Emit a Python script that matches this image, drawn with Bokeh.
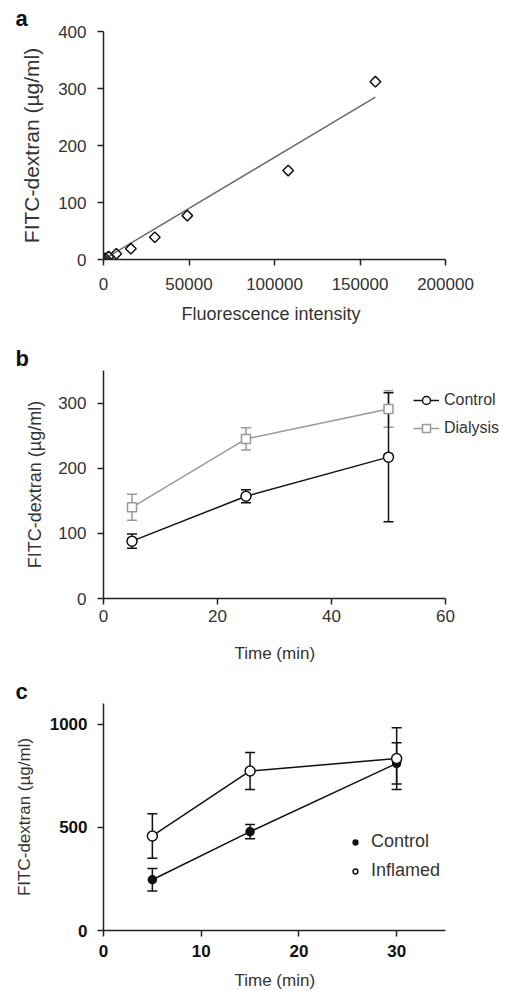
import numpy as np
from bokeh.plotting import figure
from bokeh.models import (ColumnDataSource, Whisker, TeeHead, FixedTicker, BasicTickFormatter,
                          Legend, LegendItem, Range1d, Title)
from bokeh.layouts import column
from bokeh.embed import file_html
from bokeh.resources import INLINE

# ---------------- data ----------------
# panel a: calibration
cal_x = [0, 1000, 3000, 7500, 16000, 30000, 49000, 108000, 159000]
cal_y = [0, 2, 5, 10, 19, 39, 77, 156, 312]
fit_x = [0, 159000]
fit_y = [0, 285]
a_xticks = [0, 50000, 100000, 150000, 200000]
a_yticks = [0, 100, 200, 300, 400]

# panel b
time_b = [5, 25, 50]
ctrl_b = [88, 157, 217]
ctrl_b_err = [11, 10, 99]
dial_b = [140, 245, 291]
dial_b_err = [20, 17, 28]
b_xticks = [0, 20, 40, 60]
b_yticks = [0, 100, 200, 300]

# panel c
time_c = [5, 15, 30]
ctrl_c = [246, 479, 810]
ctrl_c_err = [54, 35, 100]
infl_c = [458, 773, 833]
infl_c_err = [108, 90, 150]
c_xticks = [0, 10, 20, 30]
c_yticks = [0, 500, 1000]

FONT = "Liberation Sans"
AX = "#222222"
TXT = "#333333"
W = 503
FRAME_W = 398      # drawing area width (axis line is limited to the axis span)
AXIS_W = 342       # pixel length of the visible x-axis


def base_fig(height, xmax, yr, mbt, mbb):
    xr = (0, xmax * FRAME_W / AXIS_W)
    p = figure(width=W, height=height, x_range=Range1d(*xr), y_range=Range1d(*yr),
               output_backend="svg", toolbar_location=None,
               min_border_left=103, min_border_right=W - 103 - FRAME_W,
               min_border_top=mbt, min_border_bottom=mbb)
    p.outline_line_color = None
    p.grid.visible = False
    for ax in (p.xaxis[0], p.yaxis[0]):
        ax.axis_line_color = AX
        ax.axis_line_width = 1.5
        ax.major_tick_line_color = AX
        ax.major_tick_line_width = 1.5
        ax.major_tick_out = 6
        ax.major_tick_in = 0
        ax.minor_tick_line_color = None
        ax.major_label_text_font = FONT
        ax.axis_label_text_font = FONT
        ax.axis_label_text_font_style = "normal"
        ax.major_label_text_color = TXT
        ax.axis_label_text_color = TXT
    p.xaxis.bounds = (0, xmax)
    return p


def panel_label(p, txt, standoff):
    p.title.text = txt
    p.title.text_font = FONT
    p.title.text_font_style = "bold"
    p.title.text_font_size = "22px"
    p.title.text_color = "#111111"
    p.title.align = "left"
    p.title.offset = -88
    p.title.standoff = standoff


def x_label(p, txt, size, offset, pad_top):
    # x-axis caption centred under the visible axis span (not the wider frame)
    t = Title(text=txt, align="left", offset=offset, standoff=0,
              padding=(0, 0, pad_top, 0),
              vertical_align="bottom", text_font=FONT, text_font_style="normal",
              text_font_size=size, text_color=TXT)
    p.add_layout(t, "below")


def whisk(p, xs, ys, errs, color, head):
    src = ColumnDataSource(dict(x=xs, upper=[v + e for v, e in zip(ys, errs)],
                                lower=[v - e for v, e in zip(ys, errs)]))
    w = Whisker(source=src, base="x", upper="upper", lower="lower",
                line_color=color, line_width=1.5,
                upper_head=TeeHead(size=head, line_color=color, line_width=1.5),
                lower_head=TeeHead(size=head, line_color=color, line_width=1.5))
    p.add_layout(w)


# ---------------- panel a ----------------
pa = base_fig(340, 200000, (0, 400), 31, 81)
pa.xaxis.ticker = FixedTicker(ticks=a_xticks)
pa.yaxis.ticker = FixedTicker(ticks=a_yticks)
pa.xaxis.formatter = BasicTickFormatter(use_scientific=False)
pa.yaxis.axis_label = "FITC-dextran (µg/ml)"
pa.xaxis.major_label_text_font_size = "17px"
pa.yaxis.major_label_text_font_size = "17px"
pa.yaxis.axis_label_text_font_size = "21px"
pa.xaxis.major_label_standoff = 12
pa.yaxis.major_label_standoff = 11
pa.yaxis.axis_label_standoff = 12
x_label(pa, "Fluorescence intensity", "18px", 78, 9)
pa.line(fit_x, fit_y, line_color="#666666", line_width=1.4)
pa.scatter(cal_x, cal_y, marker="square", angle=np.pi / 4, size=7.5,
           fill_color=None, line_color="#111111", line_width=1.5)
panel_label(pa, "a", 2)

# ---------------- panel b ----------------
pb = base_fig(332, 60, (0, 350), 30, 74)
pb.xaxis.ticker = FixedTicker(ticks=b_xticks)
pb.yaxis.ticker = FixedTicker(ticks=b_yticks)
pb.yaxis.axis_label = "FITC-dextran (µg/ml)"
pb.xaxis.major_label_text_font_size = "17px"
pb.yaxis.major_label_text_font_size = "17px"
pb.yaxis.axis_label_text_font_size = "18px"
pb.xaxis.major_label_standoff = 5
pb.yaxis.major_label_standoff = 11
pb.yaxis.axis_label_standoff = 10
x_label(pb, "Time (min)", "17px", 131, 17)
GRAY = "#999999"
whisk(pb, time_b, dial_b, dial_b_err, GRAY, 10)
l2 = pb.line(time_b, dial_b, line_color=GRAY, line_width=1.5)
s2 = pb.scatter(time_b, dial_b, marker="square", size=9, fill_color="white",
                line_color=GRAY, line_width=1.5)
whisk(pb, time_b, ctrl_b, ctrl_b_err, "#111111", 10)
l1 = pb.line(time_b, ctrl_b, line_color="#111111", line_width=1.5)
s1 = pb.scatter(time_b, ctrl_b, marker="circle", size=10, fill_color="white",
                line_color="#111111", line_width=1.5)
leg_b = Legend(items=[LegendItem(label="Control", renderers=[l1, s1]),
                      LegendItem(label="Dialysis", renderers=[l2, s2])],
               location=(310, 160), orientation="vertical", padding=0, margin=0, spacing=8,
               glyph_width=26, glyph_height=20, label_height=20, label_standoff=5,
               label_text_font=FONT, label_text_font_size="16px", label_text_color=TXT,
               border_line_color=None, background_fill_alpha=0)
pb.add_layout(leg_b)
panel_label(pb, "b", 0)

# ---------------- panel c ----------------
pc = base_fig(319, 35, (0, 1100), 31, 61)
pc.xaxis.ticker = FixedTicker(ticks=c_xticks)
pc.yaxis.ticker = FixedTicker(ticks=c_yticks)
pc.yaxis.axis_label = "FITC-dextran (µg/ml)"
for ax in (pc.xaxis[0], pc.yaxis[0]):
    ax.major_label_text_font_size = "17px"
    ax.major_label_text_font_style = "bold"
    ax.major_label_text_color = "#111111"
pc.yaxis.axis_label_text_font_size = "17px"
pc.xaxis.major_label_standoff = 8
pc.yaxis.major_label_standoff = 10
pc.yaxis.axis_label_standoff = 13
x_label(pc, "Time (min)", "17px", 131, 9)
whisk(pc, time_c, ctrl_c, ctrl_c_err, "#111111", 10)
whisk(pc, time_c, infl_c, infl_c_err, "#111111", 10)
pc.line(time_c, ctrl_c, line_color="#111111", line_width=1.5)
pc.line(time_c, infl_c, line_color="#111111", line_width=1.5)
sc1 = pc.scatter(time_c, ctrl_c, marker="circle", size=8, fill_color="#111111",
                 line_color="#111111", line_width=1.5)
sc2 = pc.scatter(time_c, infl_c, marker="circle", size=10, fill_color="white",
                 line_color="#111111", line_width=1.5)
leg_c = Legend(items=[LegendItem(label="Control", renderers=[sc1]),
                      LegendItem(label="Inflamed", renderers=[sc2])],
               location=(246, 49), orientation="vertical", padding=0, margin=0, spacing=8,
               glyph_width=12, glyph_height=20, label_height=20, label_standoff=10,
               label_text_font=FONT, label_text_font_size="18px", label_text_color=TXT,
               border_line_color=None, background_fill_alpha=0)
pc.add_layout(leg_c)
panel_label(pc, "c", 0)

layout = column(pa, pb, pc, spacing=0)
open("out.html", "w").write(file_html(layout, INLINE))
